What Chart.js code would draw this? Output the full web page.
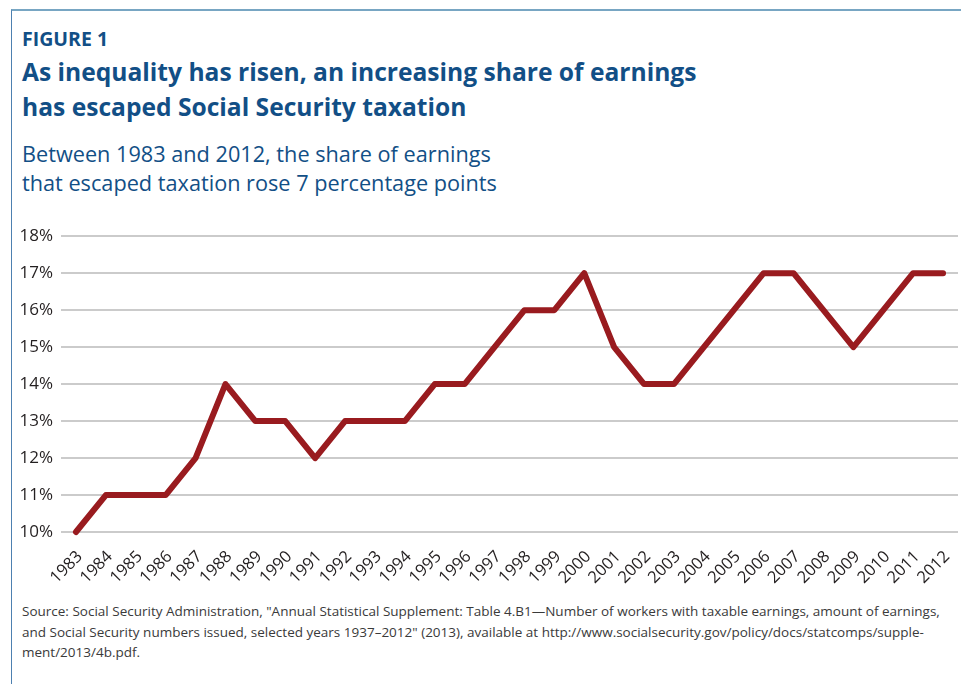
<!DOCTYPE html>
<html>
<head>
<meta charset="utf-8">
<script src="https://cdn.jsdelivr.net/npm/chart.js@4/dist/chart.umd.min.js"></script>
<style>
  html, body { margin: 0; padding: 0; background: #fff; }
  body { width: 961px; height: 684px; position: relative; overflow: hidden; font-family: "Open Sans", "Noto Sans", sans-serif; }
  .frame { position: absolute; left: 11px; top: 9px; width: 960px; height: 690px; border-top: 2px solid #78a6c3; border-left: 1px solid #4d80b0; }
  .txt { position: absolute; left: 22px; white-space: nowrap; color: #124f86; }
  #fig { top: 27px; font-size: 19.5px; line-height: 24px; font-weight: 700; }
  #title { top: 54px; font-size: 24.6px; line-height: 35px; font-weight: 700; }
  #sub { top: 139px; font-size: 21.7px; line-height: 29px; font-weight: 400; }
  #src { top: 601px; font-size: 13.5px; line-height: 20.5px; color: #3a3a3a; }
  #wrap { position: absolute; left: 0; top: 218px; width: 961px; height: 374px; }
</style>
</head>
<body>
<div class="frame"></div>
<div class="txt" id="fig">FIGURE 1</div>
<div class="txt" id="title">As inequality has risen, an increasing share of earnings<br>has escaped Social Security taxation</div>
<div class="txt" id="sub">Between 1983 and 2012, the share of earnings<br>that escaped taxation rose 7 percentage points</div>
<div class="txt" id="src">Source: Social Security Administration, "Annual Statistical Supplement: Table 4.B1—Number of workers with taxable earnings, amount of earnings,<br>and Social Security numbers issued, selected years 1937–2012" (2013), available at http://www.socialsecurity.gov/policy/docs/statcomps/supple-<br>ment/2013/4b.pdf.</div>
<div id="wrap"><canvas id="c" width="961" height="374"></canvas></div>
<script>
const years = ['1983','1984','1985','1986','1987','1988','1989','1990','1991','1992','1993','1994','1995','1996','1997','1998','1999','2000','2001','2002','2003','2004','2005','2006','2007','2008','2009','2010','2011','2012'];
const shareEscaped = [10,11,11,11,12,14,13,13,12,13,13,13,14,14,15,16,16,17,15,14,14,15,16,17,17,16,15,16,17,17];
const yMin = 10;
const yMax = 18;
const yStep = 1;

new Chart(document.getElementById('c'), {
  type: 'line',
  data: {
    labels: years,
    datasets: [{
      data: shareEscaped,
      borderColor: '#991b1f',
      borderWidth: 6,
      borderJoinStyle: 'round',
      borderCapStyle: 'round',
      pointRadius: 0,
      tension: 0,
      fill: false,
      clip: 10
    }]
  },
  options: {
    responsive: false,
    animation: false,
    layout: { padding: { top: 18, right: 3, left: 0, bottom: 0 } },
    plugins: { legend: { display: false }, tooltip: { enabled: false }, title: { display: false } },
    scales: {
      x: {
        offset: true,
        grid: { display: false, drawTicks: false },
        border: { display: false },
        ticks: {
          autoSkip: false, minRotation: 45, maxRotation: 45, padding: 15, labelOffset: 4,
          color: '#231f20', font: { family: '"Open Sans"', size: 16.5 }
        },
        afterFit: s => { s.height = 60; s.paddingLeft = 0; s.paddingRight = 0; }
      },
      y: {
        min: yMin, max: yMax,
        grid: { color: '#cbcbcb', lineWidth: 2, drawTicks: false },
        border: { display: false },
        ticks: {
          stepSize: yStep, padding: 8,
          color: '#231f20', font: { family: '"Open Sans"', size: 17 },
          callback: v => v + '%'
        },
        afterFit: s => { s.width = 61; }
      }
    }
  }
});
</script>
</body>
</html>
